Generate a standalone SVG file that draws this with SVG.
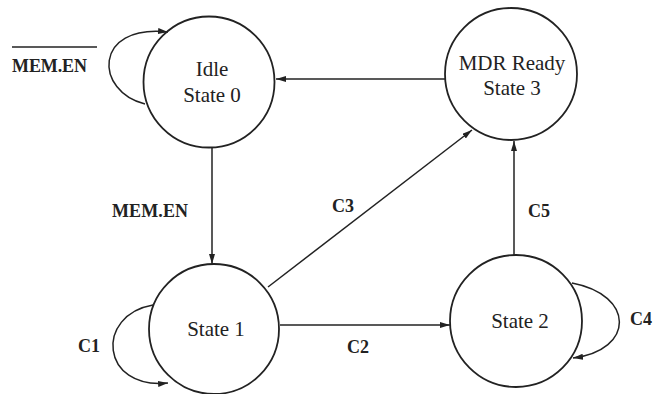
<svg xmlns="http://www.w3.org/2000/svg" width="653" height="394" viewBox="0 0 653 394">
<defs>
<marker id="ah" viewBox="0 0 10 6" refX="10" refY="3" markerWidth="10" markerHeight="6" markerUnits="userSpaceOnUse" orient="auto">
<path d="M0,0 L10,3 L0,6 z" fill="#222"/>
</marker>
<style>
.st{fill:none;stroke:#222;stroke-width:1.8}
.ln{fill:none;stroke:#222;stroke-width:1.5;marker-end:url(#ah)}
.nt{font-family:"Liberation Serif","Times New Roman",serif;font-size:21px;fill:#222;text-anchor:middle}
.lb{font-family:"Liberation Serif","Times New Roman",serif;font-size:18px;font-weight:bold;fill:#222}
</style>
</defs>
<rect width="653" height="394" fill="#fff"/>
<g id="connectors">
<line class="ln" x1="445" y1="79" x2="276" y2="79"/>
<line class="ln" x1="212" y1="147" x2="212" y2="264"/>
<line class="ln" x1="268" y1="287" x2="472" y2="130"/>
<line class="ln" x1="280" y1="325" x2="450" y2="325"/>
<line class="ln" x1="514" y1="255" x2="514" y2="141"/>
<path class="ln" d="M145,104 C95,92 92,24 168,32"/>
<path class="ln" d="M153,305 C95,315 100,390 168,383"/>
<path class="ln" d="M572,283 C635,295 635,350 573,358"/>
<line x1="12" y1="47" x2="97" y2="47" stroke="#222" stroke-width="1.5"/>
<text class="lb" x="12" y="72" textLength="75">MEM.EN</text>
<text class="lb" x="112" y="217" textLength="76">MEM.EN</text>
<text class="lb" x="332" y="212">C3</text>
<text class="lb" x="78" y="352">C1</text>
<text class="lb" x="347" y="353">C2</text>
<text class="lb" x="528" y="217">C5</text>
<text class="lb" x="630" y="325">C4</text>
</g>
<g id="state0">
<circle class="st" cx="209" cy="82" r="65.5"/>
<text class="nt" x="212" y="76">Idle</text>
<text class="nt" x="212" y="102">State 0</text>
</g>
<g id="state3">
<circle class="st" cx="511" cy="74" r="66"/>
<text class="nt" x="512" y="70">MDR Ready</text>
<text class="nt" x="512" y="95">State 3</text>
</g>
<g id="state1">
<circle class="st" cx="214" cy="329" r="65"/>
<text class="nt" x="216" y="336">State 1</text>
</g>
<g id="state2">
<circle class="st" cx="516" cy="321" r="66"/>
<text class="nt" x="520" y="328">State 2</text>
</g>
</svg>
